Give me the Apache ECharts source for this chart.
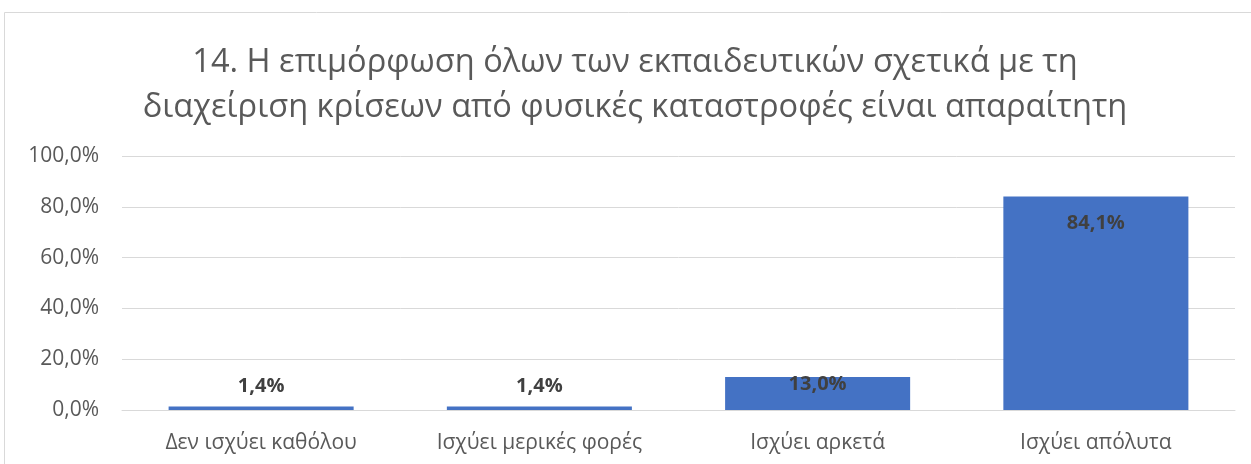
<!DOCTYPE html>
<html>
<head>
<meta charset="utf-8">
<script src="https://cdn.jsdelivr.net/npm/echarts@6/dist/echarts.min.js"></script>
<style>
  html, body { margin: 0; padding: 0; background: #ffffff; }
  #chart { width: 1251px; height: 464px; }
</style>
</head>
<body>
<div id="chart"></div>
<script>
// Survey item 14: share of responses per answer
const titleLines = [
  '14. Η επιμόρφωση όλων των εκπαιδευτικών σχετικά με τη',
  'διαχείριση κρίσεων από φυσικές καταστροφές είναι απαραίτητη'
];
const categories = ['Δεν ισχύει καθόλου', 'Ισχύει μερικές φορές', 'Ισχύει αρκετά', 'Ισχύει απόλυτα'];
const values = [1.4, 1.4, 13.0, 84.1];
const yTicks = { min: 0, max: 100, interval: 20 };

const FONT = '"Open Sans", sans-serif';
const fmt = v => v.toFixed(1).replace('.', ',') + '%';

// small bars carry their label above, tall bars inside near the top
const labelFor = v => v < 5
  ? { position: 'top', distance: 10 }
  : (v < 20 ? { position: 'insideTop', distance: -3 } : { position: 'insideTop', distance: 17 });

const chart = echarts.init(document.getElementById('chart'), null, { renderer: 'canvas' });
chart.setOption({
  animation: false,
  backgroundColor: '#ffffff',
  title: {
    text: titleLines.join('\n'),
    left: 630,
    top: 35,
    textAlign: 'center',
    textStyle: {
      fontFamily: FONT,
      fontSize: 32.6,
      fontWeight: 'normal',
      color: '#595959',
      lineHeight: 45
    }
  },
  graphic: [{
    type: 'rect',
    shape: { x: 4.5, y: 12.5, width: 1300, height: 500 },
    style: { fill: 'none', stroke: '#d9d9d9', lineWidth: 1 },
    silent: true
  }],
  grid: { left: 122, right: 16, top: 156, bottom: 54 },
  xAxis: {
    type: 'category',
    data: categories,
    axisLine: { show: true, lineStyle: { color: '#d9d9d9', width: 1 } },
    axisTick: { show: false },
    axisLabel: { fontFamily: FONT, fontSize: 21, color: '#595959', margin: 23 }
  },
  yAxis: {
    type: 'value',
    min: yTicks.min,
    max: yTicks.max,
    interval: yTicks.interval,
    axisLine: { show: false },
    axisTick: { show: false },
    splitLine: { lineStyle: { color: '#d9d9d9', width: 1 } },
    axisLabel: {
      fontFamily: FONT, fontSize: 21, color: '#595959', margin: 23,
      formatter: v => fmt(v)
    }
  },
  series: [{
    type: 'bar',
    barWidth: '66.5%',
    itemStyle: { color: '#4472C4' },
    data: values.map(v => ({
      value: v,
      label: Object.assign({
        show: true,
        formatter: p => fmt(p.value),
        fontFamily: FONT,
        fontSize: 20,
        fontWeight: 'bold',
        color: '#404040'
      }, labelFor(v))
    }))
  }]
});
</script>
</body>
</html>
